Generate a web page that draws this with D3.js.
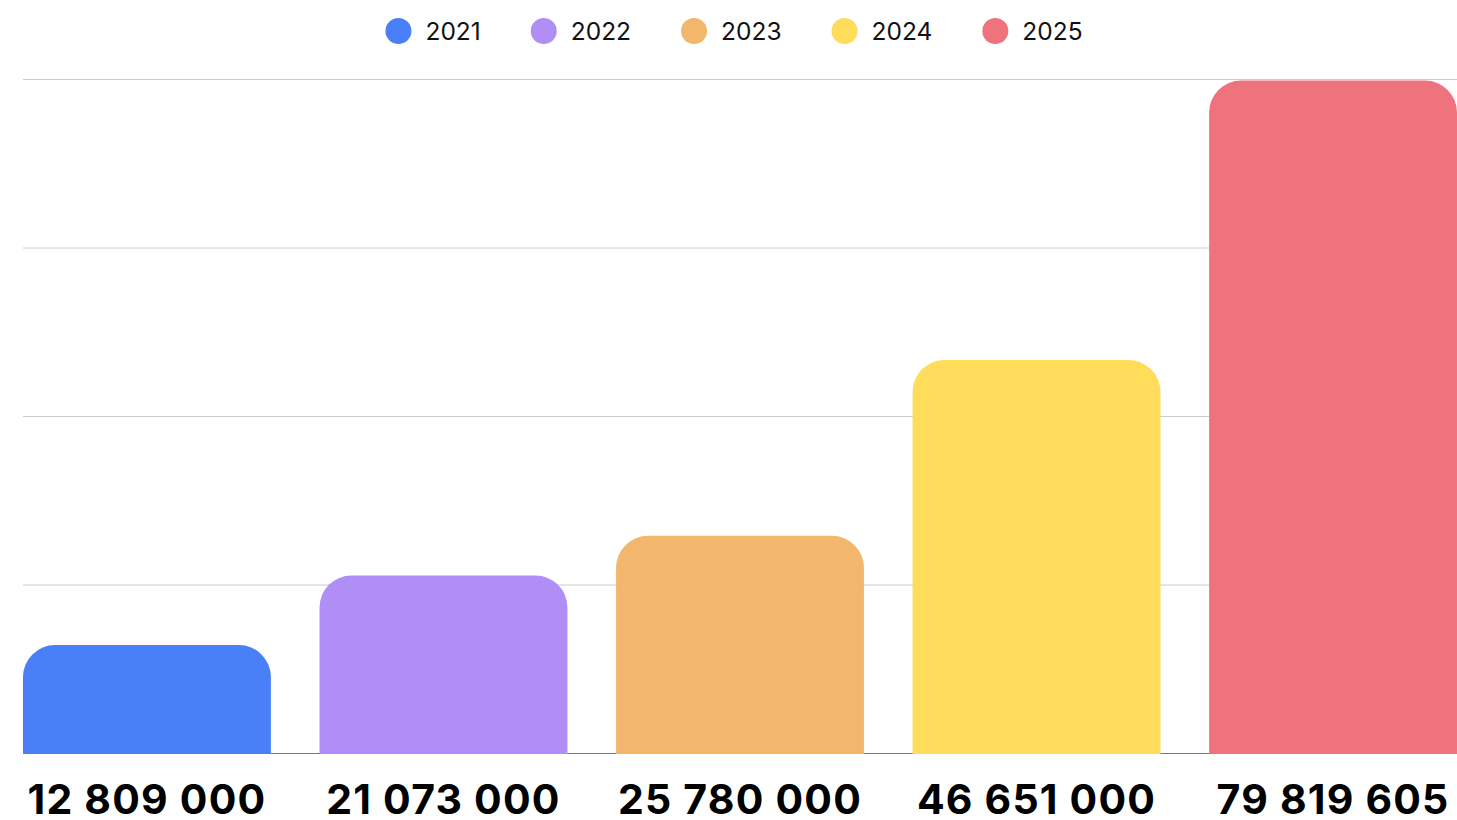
<!DOCTYPE html>
<html>
<head>
<meta charset="utf-8">
<script src="https://cdn.jsdelivr.net/npm/d3@7"></script>
<style>
  body { margin: 0; background: #fff; }
  text { font-family: Inter, 'Noto Sans', sans-serif; }
</style>
</head>
<body>
<div id="chart"></div>
<script>
const width = 1457
const height = 820
const margin = { left: 23, right: 0, top: 79, bottom: 67 }

const years = ['2021', '2022', '2023', '2024', '2025']
const values = [12809000, 21073000, 25780000, 46651000, 79819605]
const colors = ['#4a80f7', '#b08ef5', '#f2b76c', '#ffdc5a', '#ef737c']
const yTicks = [0, 20000000, 40000000, 60000000, 80000000]

const formatValue = v => d3.format(',')(v).replace(/,/g, ' ')

const x = d3.scaleBand()
  .domain(years)
  .range([margin.left, width - margin.right])
  .paddingInner(0.164)
  .paddingOuter(0)
const y = d3.scaleLinear()
  .domain([0, 80000000])
  .range([height - margin.bottom, margin.top])
const color = d3.scaleOrdinal().domain(years).range(colors)

const svg = d3.select('#chart')
  .append('svg')
    .attr('width', width)
    .attr('height', height)

// gridlines
svg.append('g')
  .attr('transform', `translate(${margin.left},0)`)
  .call(d3.axisLeft(y).tickValues(yTicks.slice(1)).tickSize(-(width - margin.left - margin.right)).tickFormat(''))
  .call(g => g.select('.domain').remove())
  .call(g => g.selectAll('.tick line').attr('stroke', '#cccccc').attr('stroke-width', 1))

// baseline
svg.append('line')
  .attr('x1', margin.left)
  .attr('x2', width - margin.right)
  .attr('y1', y(0) + 0.5)
  .attr('y2', y(0) + 0.5)
  .attr('stroke', '#777')
  .attr('stroke-width', 1.2)

// bars, rounded on top only
const r = 32
const rounded = (x0, w, top, bottom) => {
  const rr = Math.min(r, (bottom - top), w / 2)
  const p = d3.path()
  p.moveTo(x0, bottom)
  p.lineTo(x0, top + rr)
  p.arcTo(x0, top, x0 + rr, top, rr)
  p.lineTo(x0 + w - rr, top)
  p.arcTo(x0 + w, top, x0 + w, top + rr, rr)
  p.lineTo(x0 + w, bottom)
  p.closePath()
  return p.toString()
}

svg.append('g')
  .selectAll('path')
  .data(years)
  .enter().append('path')
    .attr('d', (d, i) => rounded(x(d), x.bandwidth(), y(values[i]), y(0) + 1))
    .attr('fill', d => color(d))

// value labels
svg.append('g')
  .selectAll('text')
  .data(years)
  .enter().append('text')
    .attr('x', d => x(d) + x.bandwidth() / 2)
    .attr('y', 814)
    .attr('text-anchor', 'middle')
    .attr('font-size', 41)
    .attr('font-weight', 700)
    .attr('letter-spacing', 1.2)
    .attr('fill', '#000')
    .text((d, i) => formatValue(values[i]))

// legend
const legend = svg.append('g')
const items = legend.selectAll('g')
  .data(years)
  .enter().append('g')
items.append('circle')
  .attr('r', 13)
  .attr('cy', 31)
  .attr('fill', d => color(d))
items.append('text')
  .attr('x', 27)
  .attr('y', 40)
  .attr('font-size', 24.5)
  .attr('fill', '#111')
  .text(d => d)
let cx = 0
items.each(function () {
  const g = d3.select(this)
  const w = g.select('text').node().getComputedTextLength()
  g.attr('transform', `translate(${cx},0)`)
  cx += 27 + w + 63
})
const total = cx - 63 + 13
legend.attr('transform', `translate(${734 - total / 2 + 13},0)`)
</script>
</body>
</html>
